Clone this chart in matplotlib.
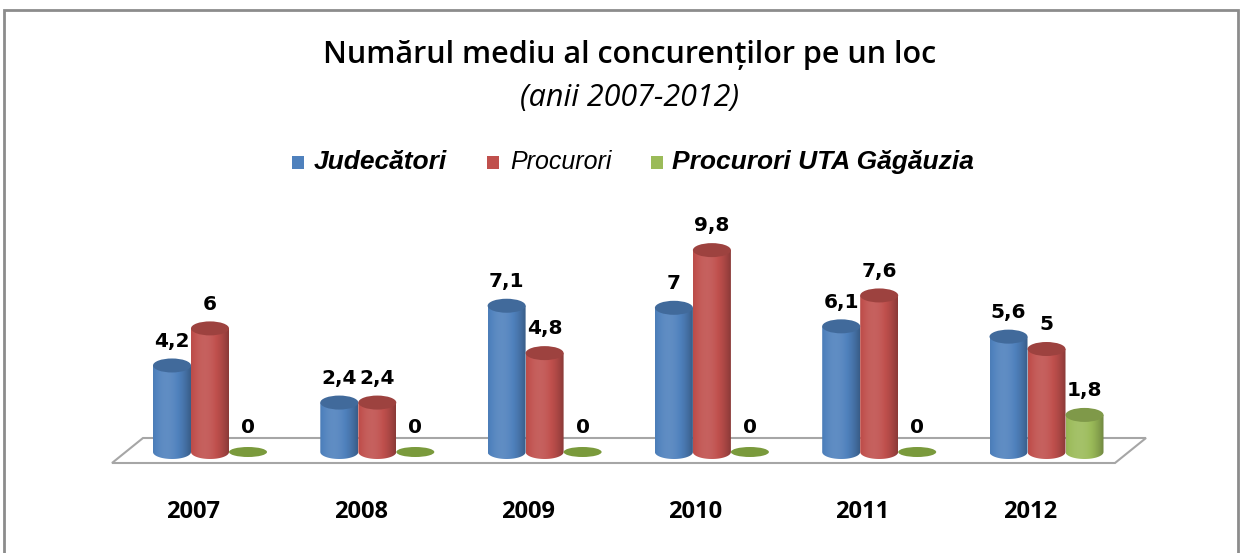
import numpy as np
import matplotlib
matplotlib.use('Agg')
import matplotlib.pyplot as plt
from matplotlib.patches import Ellipse, Rectangle, Polygon, PathPatch
from matplotlib.path import Path
from matplotlib.colors import to_rgb

years = ['2007', '2008', '2009', '2010', '2011', '2012']
judecatori = [4.2, 2.4, 7.1, 7.0, 6.1, 5.6]
procurori = [6.0, 2.4, 4.8, 9.8, 7.6, 5.0]
procurori_uta = [0, 0, 0, 0, 0, 1.8]
series_names = ['Judecători', 'Procurori', 'Procurori UTA Găgăuzia']
colors = ['#4F81BD', '#C0504D', '#9BBB59']

W, H = 1243, 553
fig = plt.figure(figsize=(W / 100, H / 100), dpi=100)
ax = fig.add_axes([0, 0, 1, 1])

# pixel -> data mapping: x_px = 210 + 167.3*x, y_px = 452 - 20.6*y
sx, x0 = 167.3, 210
sy, y0 = 20.6, 452
xlim = (-x0 / sx, (W - x0) / sx)
ylim = ((y0 - H) / sy, y0 / sy)

bw = 38 / sx
eh = 14 / sy


def fmt(v):
    return ('%g' % v).replace('.', ',')


def shade(c, t):
    r = np.array(to_rgb(c))
    f = 0.72 + 0.36 * (1 - ((t - 0.36) / 0.64) ** 2)
    out = []
    for k in f:
        if k > 1:
            out.append(r + (1 - r) * (k - 1) * 1.2)
        else:
            out.append(r * k)
    return np.clip(np.array(out), 0, 1)


def cylinder(x, h, c):
    if h <= 0:
        ax.add_patch(Ellipse((x, 0), bw, 10 / sy, facecolor='#7A9A3C',
                             edgecolor='none', zorder=3))
        return
    th = np.linspace(np.pi, 2 * np.pi, 40)
    verts = [(x - bw / 2, h)]
    verts += [(x + bw / 2 * np.cos(a), eh / 2 * np.sin(a)) for a in th]
    verts += [(x + bw / 2, h), (x - bw / 2, h)]
    codes = [Path.MOVETO] + [Path.LINETO] * (len(verts) - 2) + [Path.CLOSEPOLY]
    clip = PathPatch(Path(verts, codes), facecolor='none', edgecolor='none')
    ax.add_patch(clip)
    t = np.linspace(0, 1, 60)
    img = shade(c, t)[None, :, :]
    im = ax.imshow(img, extent=(x - bw / 2, x + bw / 2, -eh, h),
                   aspect='auto', zorder=3, interpolation='bilinear')
    im.set_clip_path(clip)
    top = np.array(to_rgb(c)) * 0.82
    ax.add_patch(Ellipse((x, h), bw, eh, facecolor=top, edgecolor='none',
                         zorder=4))


# floor (front edge and back edge, in pixels converted to data)
n = len(years)
px_floor = [(112, 463), (1115, 463), (1146, 438), (143, 438)]
fl = [((px - x0) / sx, (y0 - py) / sy) for px, py in px_floor]
ax.add_patch(Polygon(fl, closed=True, facecolor='white', edgecolor='#A6A6A6',
                     lw=1.5, zorder=1))

data = [judecatori, procurori, procurori_uta]
for j, vals in enumerate(data):
    for i, v in enumerate(vals):
        x = i + (j - 1) * bw
        cylinder(x, v, colors[j])
        ax.text(x, v + 0.72, fmt(v), ha='center', va='bottom',
                fontsize=14.5, fontweight='bold', family='DejaVu Sans', zorder=5)

for i, y in enumerate(years):
    ax.text(i - 0.1, -60 / sy, y, ha='center', va='center', fontsize=17,
            fontweight='bold', family='Open Sans')

ax.set_xlim(*xlim)
ax.set_ylim(*ylim)
ax.axis('off')

# title
fig.text(630 / W, 1 - 55 / H, 'Numărul mediu al concurenților pe un loc',
         ha='center', va='center', fontsize=22, fontweight='semibold',
         family='Open Sans')
fig.text(629 / W, 1 - 98 / H, '(anii 2007-2012)', ha='center', va='center',
         fontsize=22, style='italic', family='Open Sans')

# legend
leg_x = [292, 487, 651]
txt_x = [314, 510, 672]
weights = ['bold', 'normal', 'bold']
sizes = [19, 18, 19]
for k in range(3):
    fig.patches.append(Rectangle((leg_x[k] / W, 1 - 169 / H), 12 / W, 13 / H,
                                 transform=fig.transFigure,
                                 facecolor=colors[k], edgecolor='none'))
    fig.text(txt_x[k] / W, 1 - 162 / H, series_names[k], ha='left',
             va='center', fontsize=sizes[k], style='italic',
             fontweight=weights[k], family='Liberation Sans')

# border
fig.patches.append(Rectangle((4 / W, -0.02), 1234 / W, 1 - 10 / H + 0.02,
                             transform=fig.transFigure, facecolor='none',
                             edgecolor='#8C8C8C', lw=2))

fig.savefig('out.png', dpi=100)
